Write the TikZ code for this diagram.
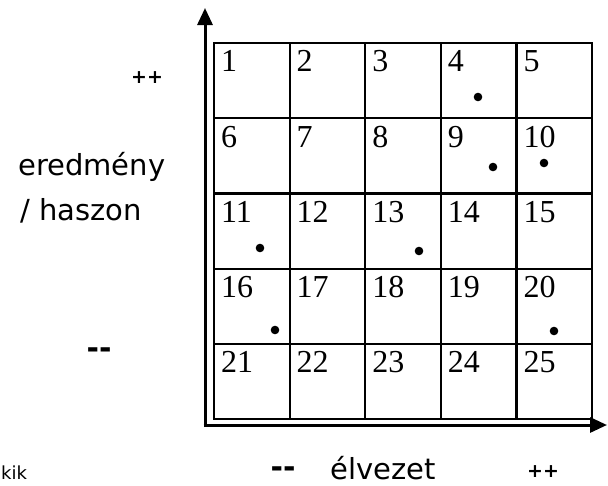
\documentclass[tikz,border=0pt]{standalone}
\usepackage{fontspec}
\setmainfont{Liberation Serif}
\newfontfamily\labelfont{DejaVu Sans}
\usetikzlibrary{arrows.meta, positioning, calc}

\begin{document}
\begin{tikzpicture}[
  x=1pt, y=-1pt,
  cell/.style={rectangle, draw, line width=2.2pt, minimum width=75.6pt,
               minimum height=75.2pt, inner sep=0pt},
  num/.style={anchor=base west, inner sep=0pt,
              font=\fontsize{32}{38}\selectfont},
  dot/.style={circle, fill, inner sep=0pt, minimum size=8.6pt},
  axis/.style={line width=3pt, -{Triangle[length=17pt, width=15pt]}},
  axlabel/.style={font=\labelfont\fontsize{29}{35}\selectfont, inner sep=0pt},
  dashlabel/.style={font=\labelfont\bfseries\fontsize{30}{36}\selectfont,
                    inner sep=0pt, anchor=base},
  sign/.style={font=\labelfont\bfseries\fontsize{19}{23}\selectfont,
               inner sep=0pt}
]
\useasboundingbox (0,0) rectangle (608,485);

% Cells of the grid
\foreach \i in {1,...,25} {
  \pgfmathtruncatemacro{\col}{mod(\i-1,5)}
  \pgfmathtruncatemacro{\row}{div(\i-1,5)}
  \node[cell] (c\i) at ({251.8+75.6*\col}, {80.6+75.2*\row}) {};
  \node[num] (n\i) at ([xshift=8pt, yshift=-30pt]c\i.north west) {\i};
}

% Dots
\node[dot] (d4)  at (478,97)  {};
\node[dot] (d9)  at (493,167) {};
\node[dot] (d10) at (544,163) {};
\node[dot] (d11) at (260,248) {};
\node[dot] (d13) at (419,251) {};
\node[dot] (d16) at (275,330) {};
\node[dot] (d20) at (554,331) {};

% Axes
\coordinate (origin) at (205,425);
\coordinate (ytip) at (205,8);
\coordinate (xtip) at (607,425);
\draw[axis] ([yshift=-2pt]origin) -- (ytip);
\draw[axis] ([xshift=-1.5pt]origin) -- (xtip);

% Axis labels
\node[sign] (ypp) at (147,78) {++};
\node[axlabel, anchor=base west] (yname) at (18,175) {eredmény};
\node[axlabel, anchor=base west] (yname2) at (20,220) {/ haszon};
\node[dashlabel] (ymm) at (99,358) {-{}-};
\node[dashlabel] (xmm) at (283,477) {-{}-};
\node[axlabel, anchor=base west] (xname) at (330,479) {élvezet};
\node[sign] (xpp) at (543,472) {++};
\node[font=\labelfont\fontsize{18}{21}\selectfont, anchor=base west,
      inner sep=0pt] (cut) at (1,479) {kik};
\end{tikzpicture}
\end{document}
